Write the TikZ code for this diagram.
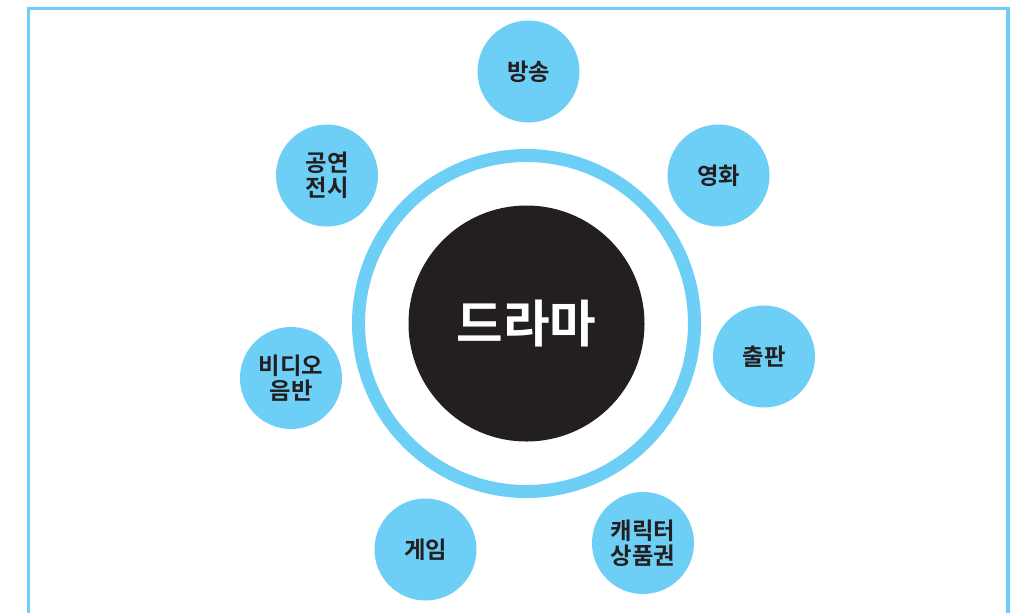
\documentclass[tikz,border=0pt]{standalone}
\usepackage{fontspec}
\usepackage{xcolor}
\usepackage{tikz}
\usetikzlibrary{positioning}
\newfontfamily\krfont{Noto Sans CJK KR}[BoldFont={Noto Sans CJK KR Bold}]
\definecolor{skyblue}{HTML}{6DCFF6}
\definecolor{inkblack}{HTML}{231F20}

\begin{document}
\begin{tikzpicture}[
        x=0.75pt, y=-0.75pt,
        field/.style={circle, fill=skyblue, minimum size=76.5pt, inner sep=0pt, align=center,
            text=inkblack, font=\krfont\bfseries\fontsize{17.5}{18.5}\selectfont},
        core/.style={circle, fill=inkblack, minimum size=177pt, inner sep=0pt,
            text=white, font=\krfont\bfseries\fontsize{38}{40}\selectfont},
        ring/.style={circle, draw=skyblue, line width=9.75pt, minimum size=252pt, inner sep=0pt},
        frame/.style={draw=skyblue, line width=2.6pt}
    ]
    \useasboundingbox (0,0) rectangle (1018,612);

    % Outer frame (open at the bottom)
    \coordinate (f1) at (28.5,614);
    \coordinate (f2) at (28.5,8.5);
    \coordinate (f3) at (1008,8.5);
    \coordinate (f4) at (1008,614);
    \draw[frame] (f1) -- (f2) -- (f3) -- (f4);

    % Centre
    \node[ring] (halo) at (526.5,323.5) {};
    \node[core] (drama) at (526.5,323.5) {드라마};

    % Surrounding fields
    \node[field] (tv)     at (528.5,71.5)  {방송};
    \node[field] (film)   at (718.5,175.5) {영화};
    \node[field] (book)   at (764,356.5)   {출판};
    \node[field] (goods)  at (643,543)     {캐릭터\\상품권};
    \node[field] (game)   at (425.5,549.5) {게임};
    \node[field] (video)  at (291,378)     {비디오\\음반};
    \node[field] (stage)  at (327,175.5)   {공연\\전시};

\end{tikzpicture}
\end{document}
